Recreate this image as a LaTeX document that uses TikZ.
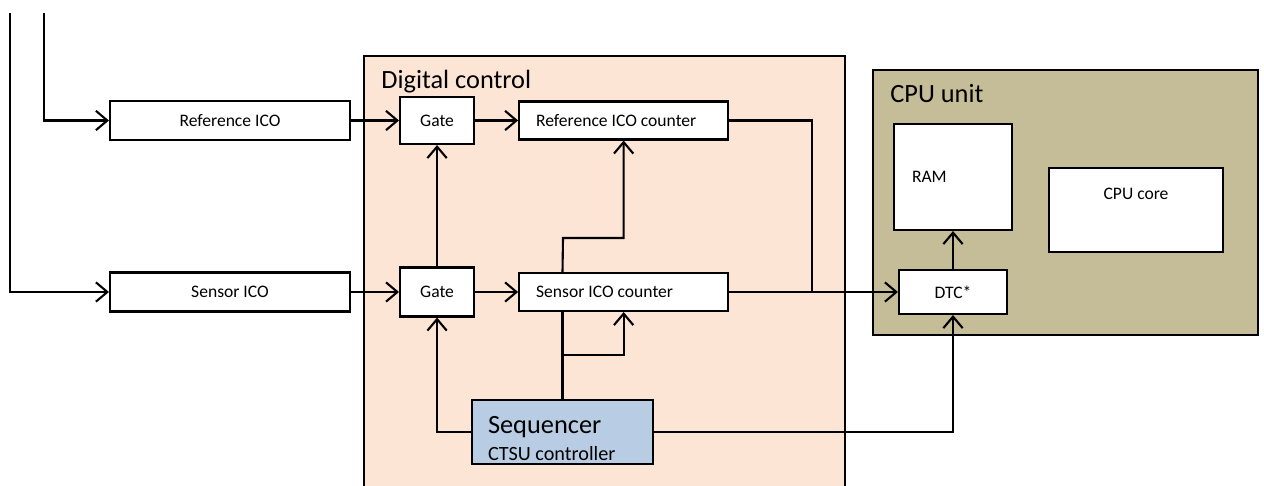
\documentclass[tikz,border=0pt]{standalone}
\usepackage{fontspec}
\setmainfont{Carlito}
\usetikzlibrary{positioning, arrows.meta}
\definecolor{digcol}{RGB}{253, 229, 214}
\definecolor{cpucol}{RGB}{196, 189, 151}
\definecolor{seqcol}{RGB}{184, 204, 228}
\tikzset{
  block/.style={draw, line width=1.2pt, fill=white, inner sep=0pt,
                font=\fontsize{10}{12}\selectfont},
  leftblock/.style={block, align=flush left, inner xsep=0.34cm},
  unit/.style={draw, line width=1.2pt, inner sep=0pt},
  title/.style={anchor=base west, inner sep=0pt, font=\fontsize{15}{18}\selectfont},
  flow/.style={-{Straight Barb[length=6.5pt, width=11pt]}, line width=1.2pt},
  wire/.style={line width=1.2pt},
}

\begin{document}
\begin{tikzpicture}[x=0.02cm, y=-0.02cm, node distance=0.96cm]
  \useasboundingbox (0,0) rectangle (1264,486);
  \clip (0,0) rectangle (1264,486);

  % --- Units ---
  \node[unit, fill=digcol, minimum width=9.62cm, minimum height=8.88cm] (digital) at (604.5,278) {};
  \node[title] (digtitle) at (381,89) {Digital control};
  \node[unit, fill=cpucol, minimum width=7.7cm, minimum height=5.3cm] (cpu) at (1065.5,202.5) {};
  \node[title] (cputitle) at (890,103) {CPU unit};

  % --- ICO row ---
  \node[block, minimum width=4.8cm, minimum height=0.78cm] (refico) at (230,120.5) {Reference ICO};
  \node[block, minimum width=4.8cm, minimum height=0.78cm] (senico) at (230,292) {Sensor ICO};

  \node[block, minimum width=1.48cm, minimum height=0.94cm, right=of refico] (gate1) {Gate};
  \node[block, minimum width=1.48cm, minimum height=0.98cm, right=of senico] (gate2) {Gate};

  \node[leftblock, text width=3.5cm, minimum height=0.76cm, right=0.86cm of gate1] (refcnt) {Reference ICO counter};
  \node[leftblock, text width=3.5cm, minimum height=0.76cm, right=0.86cm of gate2] (sencnt) {Sensor ICO counter};

  \node[block, fill=seqcol, align=flush left, text width=2.98cm, inner xsep=0.32cm,
        text height=0.66cm, text depth=0.62cm, font=\fontsize{15}{15.4}\selectfont]
        (seq) at (562.5,432) {Sequencer\\{\fontsize{11.5}{14}\selectfont CTSU controller}};

  % --- CPU side ---
  \node[leftblock, text width=1.64cm, inner xsep=0.36cm, minimum height=2.12cm] (ram) at (953,177) {RAM};
  \node[block, minimum width=3.48cm, text height=0.62cm, text depth=1.06cm] (core) at (1136,210) {CPU core};
  \node[block, minimum width=2.16cm, minimum height=0.88cm] (dtc) at (953,292) {DTC*};

  % --- inputs ---
  \coordinate (inA) at (10,13);
  \coordinate (inB) at (44,13);
  \draw[flow] (inA) |- (senico);
  \draw[flow] (inB) |- (refico);

  \draw[flow] (refico) -- (gate1);
  \draw[flow] (senico) -- (gate2);
  \draw[flow] (gate1) -- (refcnt);
  \draw[flow] (gate2) -- (sencnt);
  \draw[flow] (gate2) -- (gate1);
  \draw[flow] (seq.west) -| (gate2);

  % --- sequencer to counters ---
  \coordinate (br1) at (563,355);
  \coordinate (br2) at (563,238);
  \draw[wire] (seq.north) -- (seq.north |- sencnt.south);
  \draw[flow] (br1) -| (sencnt.south);
  \draw[flow] (seq.north |- sencnt.north) -- (br2) -| (refcnt.south);

  % --- to DTC ---
  \coordinate (jn) at (812,292);
  \draw[wire] (refcnt.east) -| (jn);
  \draw[flow] (sencnt) -- (dtc);
  \draw[flow] (seq.east) -| (dtc.south);
  \draw[flow] (dtc) -- (ram);
\end{tikzpicture}
\end{document}
